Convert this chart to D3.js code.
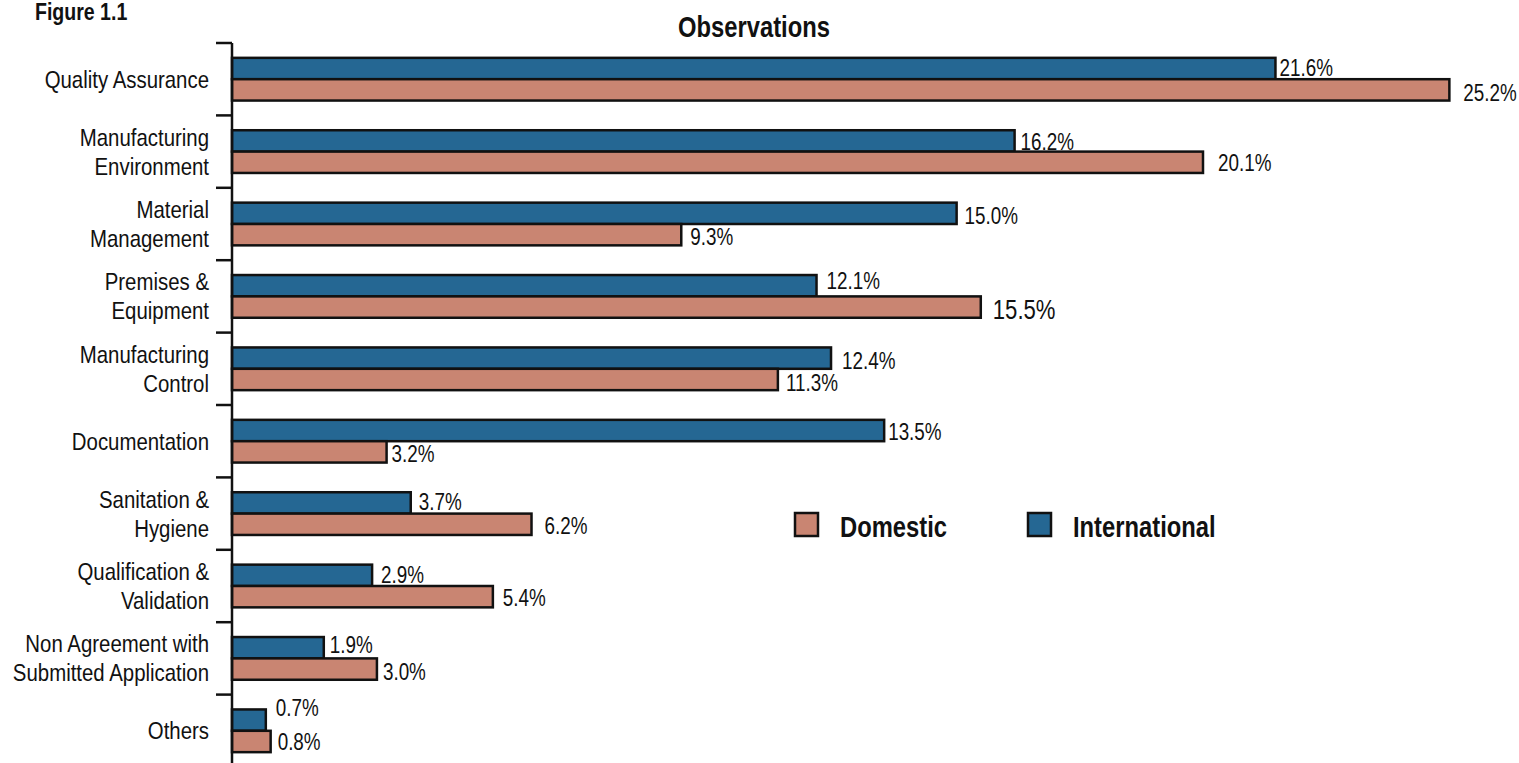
<!DOCTYPE html>
<html>
<head>
<meta charset="utf-8">
<script src="https://cdn.jsdelivr.net/npm/d3@7"></script>
<style>
  html, body { margin: 0; padding: 0; background: #ffffff; }
  svg { display: block; }
  text { font-family: "Liberation Sans", Arial, sans-serif; fill: #111; }
</style>
</head>
<body>
<svg id="chart" width="1519" height="763"></svg>
<script>
// Observation categories (line breaks mark wrapped labels)
const categories = [
  "Quality Assurance",
  "Manufacturing\nEnvironment",
  "Material\nManagement",
  "Premises &\nEquipment",
  "Manufacturing\nControl",
  "Documentation",
  "Sanitation &\nHygiene",
  "Qualification &\nValidation",
  "Non Agreement with\nSubmitted Application",
  "Others"
];

// Share of observations (%)
const international = [21.6, 16.2, 15.0, 12.1, 12.4, 13.5, 3.7, 2.9, 1.9, 0.7];
const domestic      = [25.2, 20.1, 9.3, 15.5, 11.3, 3.2, 6.2, 5.4, 3.0, 0.8];

const seriesNames = ["International", "Domestic"];
const legendOrder = ["Domestic", "International"];

// Small hand adjustments of the value labels [dx, dy]
const intlLabelNudge = [[0,-2],[2,-1],[4,1],[6,-6],[7,1],[0,0],[4,-3],[5,-2],[2,-4],[6,-14]];
const domLabelNudge  = [[10,1],[11,-1],[5,1],[8,2],[4,2],[1,0],[9,0],[6,0],[2,1],[3,-1]];

const colors = { International: "#256793", Domestic: "#c98572" };

// Horizontal squeeze that gives the regular face a condensed look
function placeNarrow(sel, fx, fy, k = 0.82) {
  sel.attr("transform", (d, i) => `translate(${fx(d, i)},${fy(d, i)}) scale(${k},1)`);
}

const svg = d3.select("#chart");

const x = d3.scaleLinear().domain([0, 26.6]).range([232, 1517]);
const y = d3.scaleBand().domain(categories).range([43, 767])
  .paddingInner(0.41).paddingOuter(0.205);
const ySub = d3.scaleBand().domain(seriesNames).range([0, y.bandwidth()]);

const rows = categories.map((c, i) => ({
  cat: c,
  values: [
    { series: "International", value: international[i], nudge: intlLabelNudge[i], big: false },
    { series: "Domestic", value: domestic[i], nudge: domLabelNudge[i], big: c.startsWith("Premises") }
  ]
}));

// Title and figure number
svg.append("text").call(placeNarrow, () => 35, () => 20, 0.85)
  .style("font-weight", "bold").style("font-size", "23px").text("Figure 1.1");
svg.append("text").call(placeNarrow, () => 754, () => 37).attr("text-anchor", "middle")
  .style("font-weight", "bold").style("font-size", "29px").text("Observations");

// Bars
const groups = svg.append("g").selectAll("g.row").data(rows).join("g")
  .attr("class", "row")
  .attr("transform", d => `translate(0,${y(d.cat)})`);

groups.selectAll("rect").data(d => d.values).join("rect")
  .attr("x", x(0))
  .attr("y", d => ySub(d.series))
  .attr("width", d => x(d.value) - x(0))
  .attr("height", ySub.bandwidth())
  .attr("fill", d => colors[d.series])
  .attr("stroke", "#111")
  .attr("stroke-width", 2.5);

groups.selectAll("text.val").data(d => d.values).join("text")
  .attr("class", "val")
  .call(placeNarrow,
        d => x(d.value) + 4 + d.nudge[0],
        d => ySub(d.series) + ySub.bandwidth() - 1 + d.nudge[1])
  .style("font-size", d => d.big ? "27px" : "23px")
  .text(d => d.value.toFixed(1) + "%");

// Category axis: line plus boundary ticks
const axis = svg.append("g");
axis.append("line")
  .attr("x1", x(0)).attr("x2", x(0))
  .attr("y1", y.range()[0]).attr("y2", y.range()[1])
  .attr("stroke", "#111").attr("stroke-width", 2.5);
const bounds = d3.range(categories.length + 1).map(i => y.range()[0] + i * y.step());
axis.selectAll("line.tick").data(bounds).join("line")
  .attr("class", "tick")
  .attr("x1", x(0) - 16).attr("x2", x(0))
  .attr("y1", d => d).attr("y2", d => d)
  .attr("stroke", "#111").attr("stroke-width", 2.5);

// Category labels
const lineH = 29;
svg.append("g").selectAll("text").data(categories).join("text")
  .attr("text-anchor", "end")
  .style("font-size", "24px")
  .call(placeNarrow, () => 209, c => y(c) + y.bandwidth() / 2, 0.85)
  .each(function(c) {
    const lines = c.split("\n");
    const first = -(lines.length - 1) * lineH / 2 + 8.5;
    d3.select(this).selectAll("tspan").data(lines).join("tspan")
      .attr("x", 0)
      .attr("y", (l, k) => first + k * lineH)
      .text(l => l);
  });

// Legend
const legendX = [795, 1028];
const legend = svg.append("g").selectAll("g").data(legendOrder).join("g")
  .attr("transform", (d, i) => `translate(${legendX[i]},513)`);
legend.append("rect")
  .attr("width", 23).attr("height", 23)
  .attr("fill", d => colors[d]).attr("stroke", "#111").attr("stroke-width", 2.5);
legend.append("text")
  .call(placeNarrow, () => 45, () => 24)
  .style("font-weight", "bold").style("font-size", "29px")
  .text(d => d);
</script>
</body>
</html>
